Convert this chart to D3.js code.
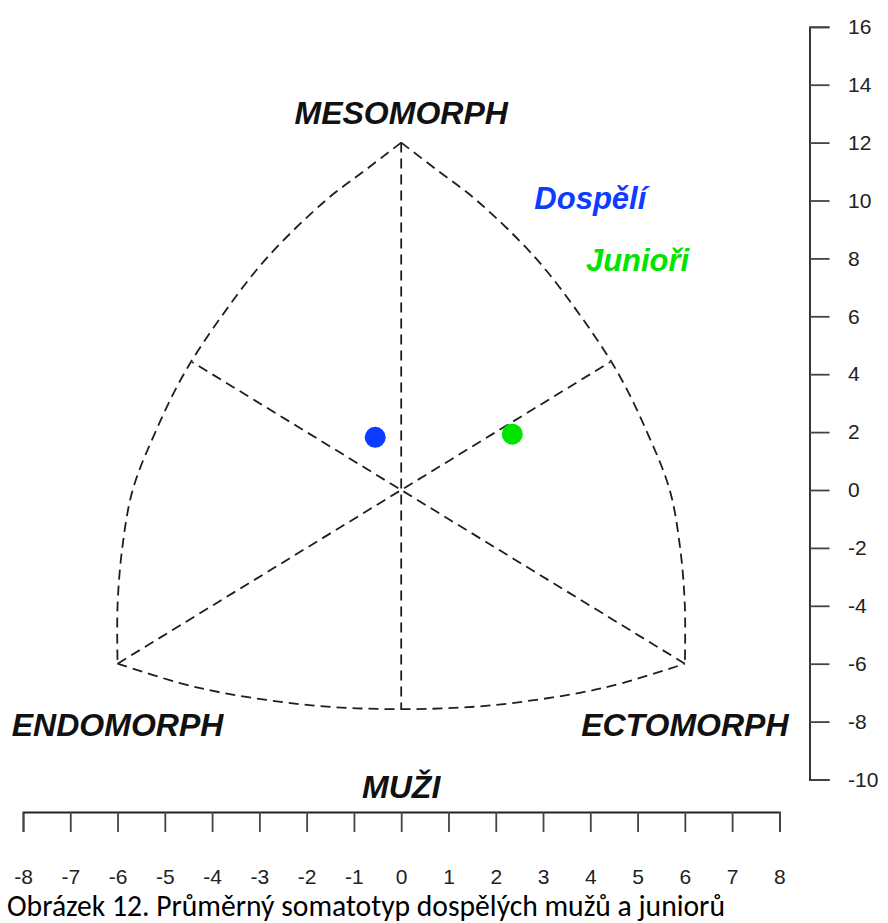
<!DOCTYPE html>
<html>
<head>
<meta charset="utf-8">
<script src="https://cdn.jsdelivr.net/npm/d3@7"></script>
<style>
  html, body { margin: 0; padding: 0; background: #fff; }
  svg { display: block; }
</style>
</head>
<body>
<script>
// Somatochart: mean somatotype of adult men and juniors

const xTickValues = [-8, -7, -6, -5, -4, -3, -2, -1, 0, 1, 2, 3, 4, 5, 6, 7, 8];
const yTickValues = [-10, -8, -6, -4, -2, 0, 2, 4, 6, 8, 10, 12, 14, 16];

// Group means (x, y on the somatochart)
const groupNames = ["Dospělí", "Junioři"];
const groupX = [-0.55, 2.35];
const groupY = [1.82, 1.93];
const groupColors = ["#0b3cff", "#00e400"];
const groupLabelX = [4.0, 5.0];
const groupLabelY = [10.1, 7.95];

// Corner labels
const cornerNames = ["MESOMORPH", "ENDOMORPH", "ECTOMORPH"];
const cornerX = [0, -6, 6];
const cornerY = [13.05, -8.1, -8.1];

// Outline of the chart (arcs between the three poles)
const arcMesoEcto = [[0, 12], [0.8, 11], [1.6, 10], [2.85, 8], [3.8, 6], [4.6, 4], [5.2, 2], [5.68, 0], [5.9, -2], [6.0, -4], [6, -6]];
const arcMesoEndo = [[0, 12], [-0.8, 11], [-1.6, 10], [-2.85, 8], [-3.8, 6], [-4.6, 4], [-5.2, 2], [-5.68, 0], [-5.9, -2], [-6.0, -4], [-6, -6]];
const arcEndoEcto = [[-6, -6], [-4.7, -6.66], [-3.8, -7.0], [-2.85, -7.25], [-1.9, -7.44], [-0.95, -7.54], [0, -7.57], [0.95, -7.54], [1.9, -7.44], [2.85, -7.25], [3.8, -7.0], [4.7, -6.66], [6, -6]];

// Internal axes
const innerLines = [
  [[0, 12], [0, -7.57]],
  [[-6, -6], [4.42, 4.42]],
  [[6, -6], [-4.42, 4.42]]
];

const width = 888, height = 923;
const svg = d3.select("body").append("svg")
  .attr("width", width).attr("height", height);

const x = d3.scaleLinear().domain([-8, 8]).range([23, 779.4]);
const y = d3.scaleLinear().domain([-10, 16]).range([779.5, 26.8]);

const dash = "10,6";
const lineGen = d3.line().x(d => x(d[0])).y(d => y(d[1]));
const curveGen = d3.line().x(d => x(d[0])).y(d => y(d[1])).curve(d3.curveCatmullRom.alpha(0.5));

const chart = svg.append("g");

[arcMesoEcto, arcMesoEndo, arcEndoEcto].forEach(arc => {
  chart.append("path")
    .attr("d", curveGen(arc))
    .attr("fill", "none")
    .attr("stroke", "#1e1e1e")
    .attr("stroke-width", 1.8)
    .attr("stroke-dasharray", dash);
});

innerLines.forEach(seg => {
  chart.append("path")
    .attr("d", lineGen(seg))
    .attr("fill", "none")
    .attr("stroke", "#1e1e1e")
    .attr("stroke-width", 1.8)
    .attr("stroke-dasharray", dash);
});

// Group points
chart.selectAll("circle.group")
  .data(groupNames)
  .join("circle")
  .attr("class", "group")
  .attr("cx", (d, i) => x(groupX[i]))
  .attr("cy", (d, i) => y(groupY[i]))
  .attr("r", 10.5)
  .attr("fill", (d, i) => groupColors[i]);

const labelFont = "'Liberation Sans', Arial, Helvetica, sans-serif";

// Group labels
chart.selectAll("text.group")
  .data(groupNames)
  .join("text")
  .attr("class", "group")
  .attr("x", (d, i) => x(groupLabelX[i]))
  .attr("y", (d, i) => y(groupLabelY[i]))
  .attr("dy", "0.36em")
  .attr("text-anchor", "middle")
  .attr("font-family", labelFont)
  .attr("font-size", 31)
  .attr("font-weight", "bold")
  .attr("font-style", "italic")
  .attr("fill", (d, i) => groupColors[i])
  .text(d => d);

// Pole labels
chart.selectAll("text.corner")
  .data(cornerNames)
  .join("text")
  .attr("class", "corner")
  .attr("x", (d, i) => x(cornerX[i]))
  .attr("y", (d, i) => y(cornerY[i]))
  .attr("dy", "0.36em")
  .attr("text-anchor", "middle")
  .attr("font-family", labelFont)
  .attr("font-size", 32)
  .attr("font-weight", "bold")
  .attr("font-style", "italic")
  .attr("fill", "#111")
  .text(d => d);

// Bottom axis
const axisY = 812;
const gx = svg.append("g")
  .attr("transform", `translate(0,${axisY})`)
  .call(d3.axisBottom(x).tickValues(xTickValues).tickSize(20).tickSizeOuter(20).tickPadding(37).tickFormat(d3.format("d")));

// Right axis
const axisX = 809.5;
const gy = svg.append("g")
  .attr("transform", `translate(${axisX},0)`)
  .call(d3.axisRight(y).tickValues(yTickValues).tickSize(20).tickSizeOuter(20).tickPadding(18.5).tickFormat(d3.format("d")));

[gx, gy].forEach(g => {
  g.select(".domain").attr("stroke", "#222").attr("stroke-width", 1.8);
  g.selectAll(".tick line").attr("stroke", "#444").attr("stroke-width", 1.8);
  g.selectAll(".tick text")
    .attr("font-family", labelFont)
    .attr("font-size", 21)
    .attr("fill", "#222");
});
// plain hyphen for negative labels
gx.selectAll(".tick text").text(d => String(d));
gy.selectAll(".tick text").text(d => String(d));

// Panel title
svg.append("text")
  .attr("x", x(0))
  .attr("y", 786)
  .attr("dy", "0.36em")
  .attr("text-anchor", "middle")
  .attr("font-family", labelFont)
  .attr("font-size", 32)
  .attr("font-weight", "bold")
  .attr("font-style", "italic")
  .attr("fill", "#111")
  .text("MUŽI");

// Figure caption
svg.append("text")
  .attr("x", 7)
  .attr("y", 916)
  .attr("font-family", "Carlito, Calibri, Lato, 'Noto Sans', sans-serif")
  .attr("font-size", 30)
  .attr("textLength", 718)
  .attr("lengthAdjust", "spacingAndGlyphs")
  .attr("fill", "#000")
  .text("Obrázek 12. Průměrný somatotyp dospělých mužů a juniorů");
</script>
</body>
</html>
